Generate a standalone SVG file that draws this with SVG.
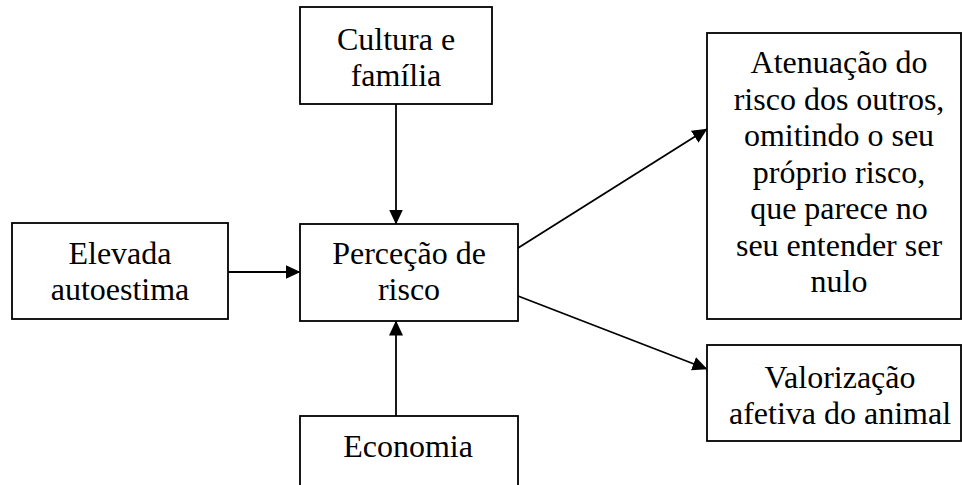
<svg xmlns="http://www.w3.org/2000/svg" width="962" height="485" viewBox="0 0 962 485">
<style>
.box{fill:#fff;stroke:#000;stroke-width:1.8}
.t{font-family:"Liberation Serif","Times New Roman",serif;font-size:32px;fill:#000;text-anchor:middle}
.c{stroke:#000;stroke-width:1.8;fill:none;marker-end:url(#ah)}
</style>
<defs>
<marker id="ah" markerUnits="userSpaceOnUse" markerWidth="15" markerHeight="14" refX="14.5" refY="7" orient="auto" viewBox="0 0 15 14">
<path d="M0,0 L15,7 L0,14 z" fill="#000"/>
</marker>
</defs>
<rect width="962" height="485" fill="#fff"/>
<g id="connectors">
<line class="c" x1="396" y1="104" x2="396" y2="224"/>
<line class="c" x1="228" y1="272" x2="300" y2="272"/>
<line class="c" x1="396" y1="416" x2="396" y2="321"/>
<line class="c" x1="518" y1="248" x2="707" y2="129"/>
<line class="c" x1="518" y1="296" x2="707" y2="369"/>
</g>
<g id="cultura">
<rect class="box" x="300" y="7" width="192" height="97"/>
<text class="t" x="396" y="50">Cultura e</text>
<text class="t" x="396" y="86">família</text>
</g>
<g id="elevada">
<rect class="box" x="12" y="223" width="216" height="96"/>
<text class="t" x="120" y="264">Elevada</text>
<text class="t" x="120" y="300">autoestima</text>
</g>
<g id="percecao">
<rect class="box" x="300" y="224" width="218" height="97"/>
<text class="t" x="409" y="264">Perceção de</text>
<text class="t" x="409" y="300">risco</text>
</g>
<g id="economia">
<rect class="box" x="300" y="416" width="218" height="100"/>
<text class="t" x="408" y="457">Economia</text>
</g>
<g id="atenuacao">
<rect class="box" x="707" y="33" width="254" height="286"/>
<text class="t" x="839" y="73">Atenuação do</text>
<text class="t" x="839" y="109.5">risco dos outros,</text>
<text class="t" x="839" y="146">omitindo o seu</text>
<text class="t" x="839" y="182.5">próprio risco,</text>
<text class="t" x="839" y="219">que parece no</text>
<text class="t" x="839" y="255.5">seu entender ser</text>
<text class="t" x="839" y="292">nulo</text>
</g>
<g id="valorizacao">
<rect class="box" x="707" y="345" width="254" height="96"/>
<text class="t" x="840" y="388">Valorização</text>
<text class="t" x="840" y="424">afetiva do animal</text>
</g>
</svg>
